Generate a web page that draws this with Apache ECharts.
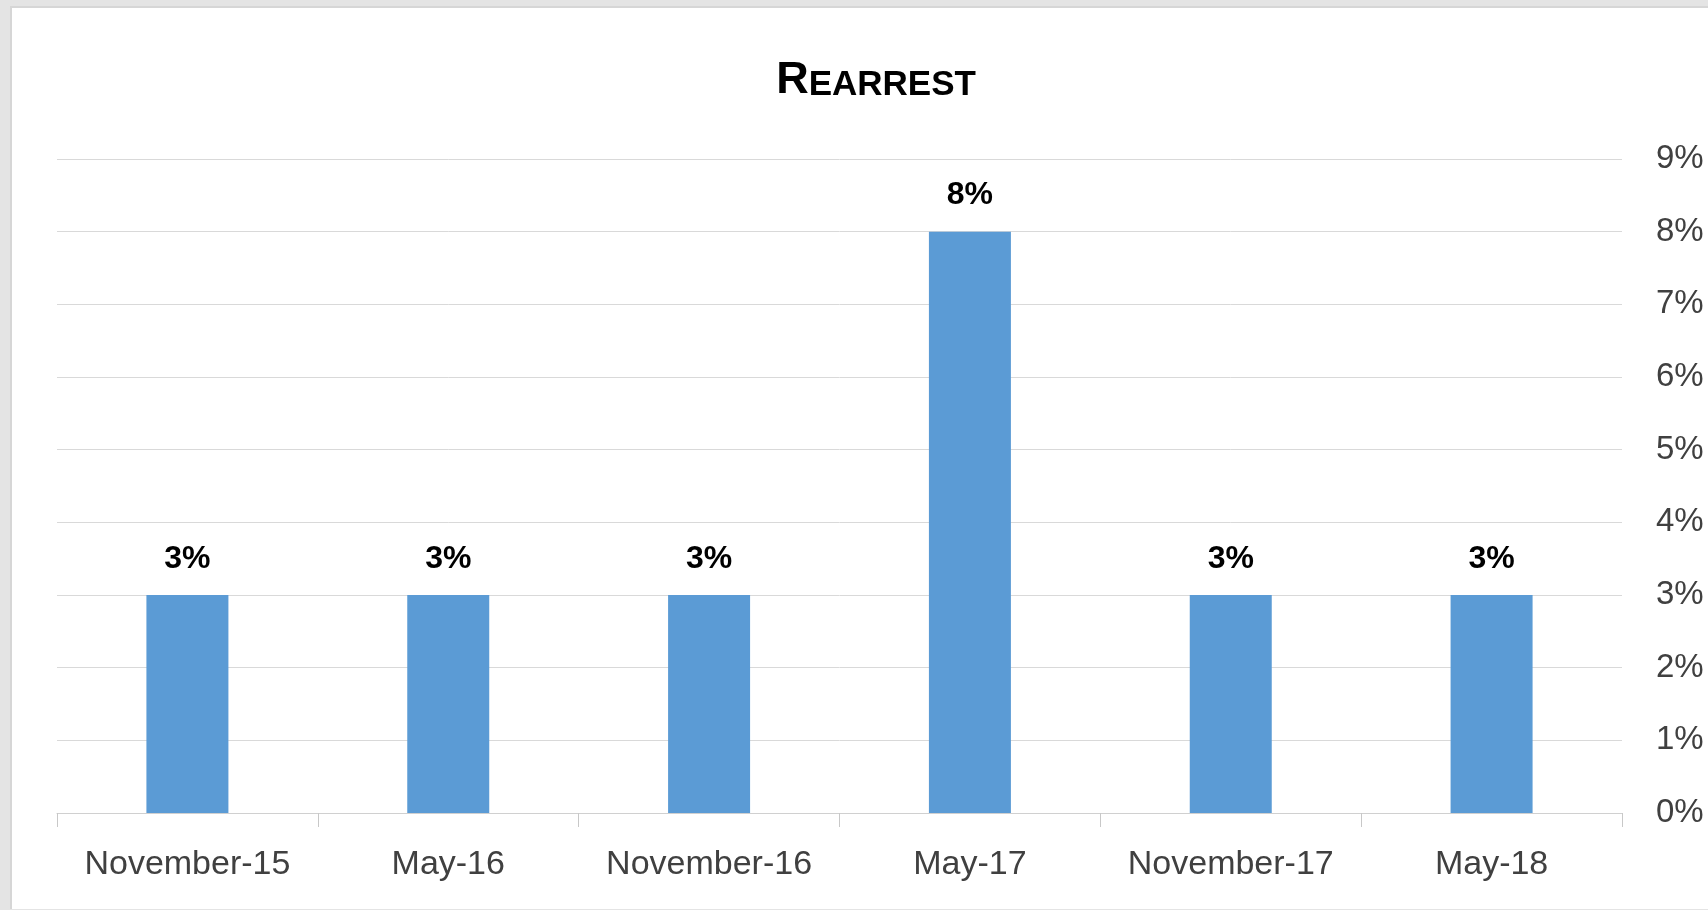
<!DOCTYPE html>
<html>
<head>
<meta charset="utf-8">
<script src="https://cdn.jsdelivr.net/npm/echarts@6/dist/echarts.min.js"></script>
<style>
  html, body { margin: 0; padding: 0; background: #e4e4e4; }
  #frame {
    position: absolute; left: 10px; top: 6px; width: 1698px; height: 901px;
    background: #ffffff; border-left: 2px solid #d6d6d6; border-top: 2px solid #d6d6d6;
  }
  #chart { width: 1696px; height: 899px; }
</style>
</head>
<body>
<div id="frame"><div id="chart"></div></div>
<script>
const categories = ['November-15', 'May-16', 'November-16', 'May-17', 'November-17', 'May-18'];
const rearrestPct = [3, 3, 3, 8, 3, 3];
const yMax = 9;

const chart = echarts.init(document.getElementById('chart'));
const font = '"Liberation Sans", Arial, sans-serif';

const option = {
  animation: false,
  title: {
    text: '{big|R}{small|EARREST}',
    left: 859,
    textAlign: 'center',
    top: 42,
    textStyle: {
      rich: {
        big: { fontFamily: font, fontWeight: 'bold', fontSize: 45, color: '#000', verticalAlign: 'bottom', lineHeight: 48 },
        small: { fontFamily: font, fontWeight: 'bold', fontSize: 35, color: '#000', verticalAlign: 'bottom', lineHeight: 48 }
      }
    }
  },
  grid: { left: 45, right: 86, top: 151, bottom: 94 },
  xAxis: {
    type: 'category',
    data: categories,
    axisLine: { lineStyle: { color: '#d0d0d0', width: 1 } },
    axisTick: { show: true, interval: 0, length: 14, lineStyle: { color: '#c8c8c8', width: 1 } },
    axisLabel: { color: '#404040', fontFamily: font, fontSize: 34, margin: 35, interval: 0 },
    splitLine: { show: false }
  },
  yAxis: {
    type: 'value',
    position: 'right',
    min: 0,
    max: yMax,
    interval: 1,
    axisLine: { show: false },
    axisTick: { show: false },
    axisLabel: { formatter: '{value}%', color: '#404040', fontFamily: font, fontSize: 33, margin: 34, padding: [5, 0, 0, 0] },
    splitLine: { lineStyle: { color: '#d9d9d9', width: 1 } }
  },
  series: [{
    type: 'bar',
    data: rearrestPct,
    barWidth: 82,
    itemStyle: { color: '#5b9bd5' },
    label: {
      show: true,
      position: 'top',
      distance: 20,
      formatter: '{c}%',
      color: '#000',
      fontFamily: font,
      fontWeight: 'bold',
      fontSize: 32
    }
  }]
};

chart.setOption(option);
</script>
</body>
</html>
